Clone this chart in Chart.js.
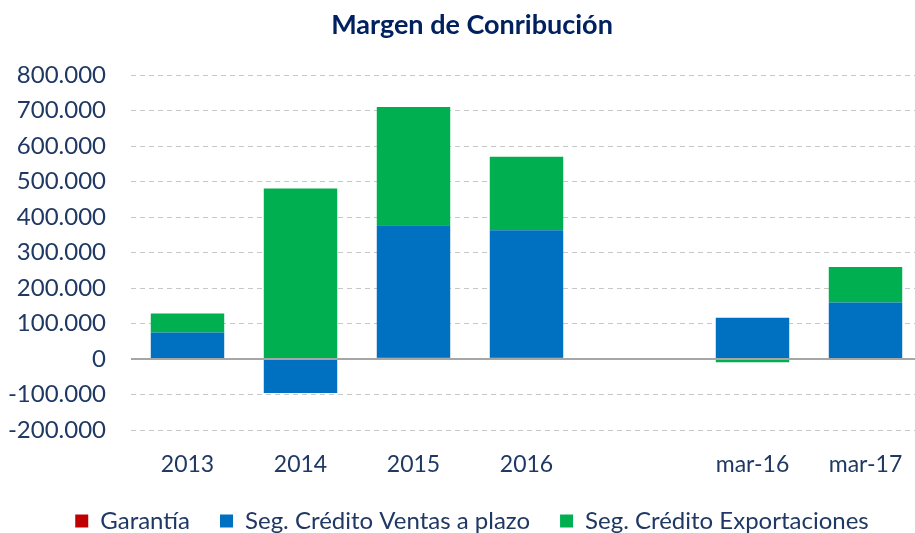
<!DOCTYPE html>
<html>
<head>
<meta charset="utf-8">
<script src="https://cdn.jsdelivr.net/npm/chart.js@4/dist/chart.umd.min.js"></script>
<style>
  html, body { margin: 0; padding: 0; background: #fff; overflow: hidden; }
  #wrap { width: 944px; height: 533px; position: relative; }
</style>
</head>
<body>
<div id="wrap"><canvas id="grafico"></canvas></div>
<script>
// --- datos del gráfico ---
const categorias = ['2013', '2014', '2015', '2016', '', 'mar-16', 'mar-17'];
const garantia = [0, 0, 4000, 4000, null, 0, 0];
const ventasPlazo = [75000, -96000, 373000, 359000, null, 116000, 159000];
const exportaciones = [53000, 480000, 333000, 207000, null, -9000, 100000];
const ticksY = [-200000, -100000, 0, 100000, 200000, 300000, 400000, 500000, 600000, 700000, 800000];

const colorTexto = '#1F3864';
const fuente = 'Lato, "Open Sans", sans-serif';

// formato con punto de miles: 800.000
function formatoMiles(v) {
    return String(v).replace(/\B(?=(\d{3})+(?!\d))/g, '.');
}

const ctx = document.getElementById('grafico').getContext('2d');
new Chart(ctx, {
    type: 'bar',
    data: {
        labels: categorias,
        datasets: [
            { label: 'Garantía', data: garantia, backgroundColor: '#C00000' },
            { label: 'Seg. Crédito Ventas a plazo', data: ventasPlazo, backgroundColor: '#0070C0' },
            { label: 'Seg. Crédito Exportaciones', data: exportaciones, backgroundColor: '#00B050' }
        ]
    },
    options: {
        responsive: true,
        maintainAspectRatio: false,
        animation: false,
        layout: { padding: 0 },
        datasets: { bar: { categoryPercentage: 0.65, barPercentage: 1 } },
        plugins: {
            title: {
                display: true,
                text: 'Margen de Conribución',
                color: '#002060',
                font: { family: fuente, size: 27, weight: 'bold' },
                padding: { top: 9, bottom: 33.6 }
            },
            legend: {
                position: 'bottom',
                maxHeight: 54,
                labels: {
                    color: colorTexto,
                    font: { family: fuente, size: 24 },
                    boxWidth: 13,
                    boxHeight: 13,
                    padding: 30
                }
            },
            tooltip: { enabled: false }
        },
        scales: {
            x: {
                stacked: true,
                grid: { display: false, drawTicks: false },
                border: { display: false },
                ticks: { color: colorTexto, font: { family: fuente, size: 23 }, padding: 21, maxRotation: 0 },
                afterFit: (scale) => { scale.height = 49; }
            },
            y: {
                stacked: true,
                min: ticksY[0],
                max: ticksY[ticksY.length - 1],
                afterBuildTicks: (scale) => { scale.ticks = ticksY.map(v => ({ value: v })); },
                afterFit: (scale) => { scale.width = 131; },
                grid: {
                    drawTicks: false,
                    color: (c) => c.tick && c.tick.value === 0 ? '#A6A6A6' : '#C8C8C8',
                    lineWidth: (c) => c.tick && c.tick.value === 0 ? 2 : 1
                },
                border: {
                    display: false,
                    dash: (c) => c.tick && c.tick.value === 0 ? [] : [5, 4]
                },
                ticks: {
                    color: colorTexto,
                    font: { family: fuente, size: 24 },
                    padding: 25,
                    callback: (v) => formatoMiles(v)
                }
            },
            // eje vacío a la derecha: el gráfico original queda recortado ahí
            margenDer: {
                type: 'linear',
                position: 'right',
                display: true,
                grid: { display: false, drawTicks: false },
                border: { display: false },
                ticks: { display: false },
                afterFit: (scale) => { scale.width = 22; }
            }
        }
    }
});
</script>
</body>
</html>
